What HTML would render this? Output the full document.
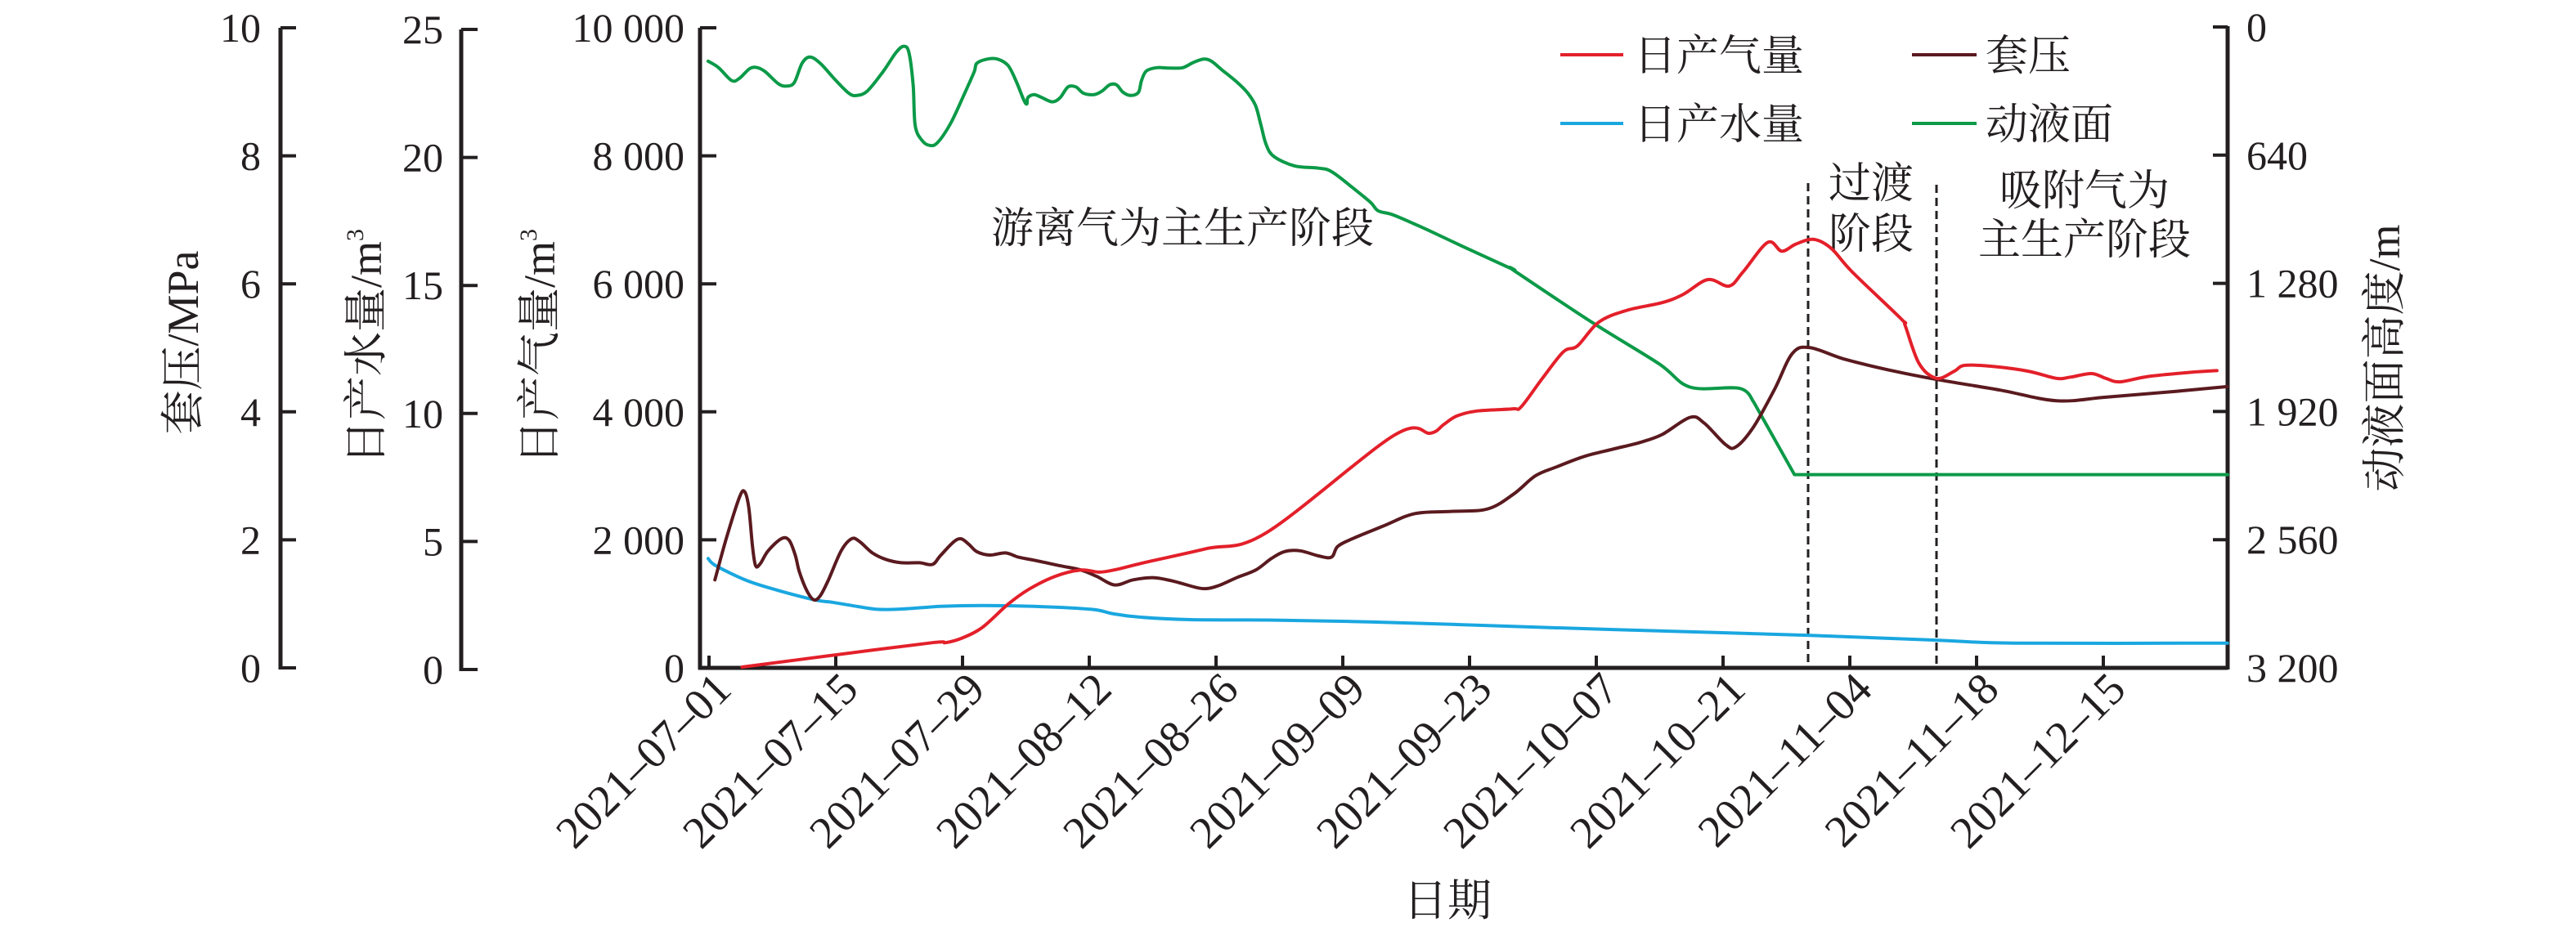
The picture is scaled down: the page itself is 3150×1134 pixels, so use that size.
<!DOCTYPE html>
<html><head><meta charset="utf-8"><style>
html,body{margin:0;padding:0;background:#fff;}
svg{display:block;}
text{font-family:"Liberation Serif","Noto Serif CJK SC","Noto Sans CJK SC",serif;fill:#231f20;}
</style></head><body>
<svg id="s" width="3150" height="1134" viewBox="0 0 3150 1134" xmlns="http://www.w3.org/2000/svg">
<g stroke="#231f20" stroke-width="5" fill="none">
<line x1="343" y1="34" x2="343" y2="819"/>
<line x1="564" y1="36" x2="564" y2="821"/>
<line x1="856" y1="34" x2="856" y2="819"/>
<line x1="854" y1="817" x2="2724" y2="817"/>
<line x1="2724" y1="32" x2="2724" y2="819"/>
</g>
<g id="ticks" stroke="#231f20" stroke-width="4"></g>
<g id="labels" font-size="50"></g>
<g id="xl" font-size="55"></g>
<g font-size="54">
<text transform="translate(242,419) rotate(-90)" text-anchor="middle">套压/MPa</text>
<text transform="translate(466,424) rotate(-90)" text-anchor="middle">日产水量/m<tspan font-size="30" dy="-22">3</tspan></text>
<text transform="translate(678,424) rotate(-90)" text-anchor="middle">日产气量/m<tspan font-size="30" dy="-22">3</tspan></text>
<text transform="translate(2934,438) rotate(-90)" text-anchor="middle">动液面高度/m</text>
<text x="1770" y="1120" text-anchor="middle">日期</text>
</g>
<g stroke-width="4" fill="none">
<line x1="1908" y1="67" x2="1985" y2="67" stroke="#e3202a"/>
<line x1="2338" y1="67" x2="2417" y2="67" stroke="#5a1a1f"/>
<line x1="1908" y1="151" x2="1985" y2="151" stroke="#1aa7e0"/>
<line x1="2338" y1="151" x2="2417" y2="151" stroke="#0c9a48"/>
</g>
<g font-size="52">
<text x="1998" y="86">日产气量</text>
<text x="2428" y="86">套压</text>
<text x="1998" y="170">日产水量</text>
<text x="2428" y="170">动液面</text>
<text x="1446" y="297" text-anchor="middle" font-size="52">游离气为主生产阶段</text>
<text x="2288" y="242" text-anchor="middle">过渡</text>
<text x="2288" y="304" text-anchor="middle">阶段</text>
<text x="2549" y="251" text-anchor="middle">吸附气为</text>
<text x="2549" y="311" text-anchor="middle">主生产阶段</text>
</g>
<g stroke="#231f20" stroke-width="3" stroke-dasharray="10,6">
<line x1="2211" y1="224" x2="2211" y2="817"/>
<line x1="2368" y1="226" x2="2368" y2="817"/>
</g>
<g id="series" fill="none" stroke-width="4" stroke-linejoin="round" stroke-linecap="round"></g>
</svg>
<script>
var NS="http://www.w3.org/2000/svg";
function el(p,t,a,txt){var e=document.createElementNS(NS,t);for(var k in a)e.setAttribute(k,a[k]);if(txt!=null)e.textContent=txt;document.getElementById(p).appendChild(e);return e;}
var y0=817,y1=34;
for(var i=0;i<=5;i++){var y=y0-(y0-y1)*i/5;
 el("ticks","line",{x1:343,y1:y,x2:362,y2:y});
 el("labels","text",{x:319,y:y+17,"text-anchor":"end"},String(i*2));
 var y2=819-(819-36)*i/5;
 el("ticks","line",{x1:564,y1:y2,x2:584,y2:y2});
 el("labels","text",{x:542,y:y2+17,"text-anchor":"end"},String(i*5));
 el("ticks","line",{x1:856,y1:y,x2:876,y2:y});
 el("labels","text",{x:837,y:y+17,"text-anchor":"end"},i==0?"0":(i==5?"10 000":(i*2)+" 000"));
 var yr=33+(817-33)*i/5;
 el("ticks","line",{x1:2706,y1:yr,x2:2724,y2:yr});
 el("labels","text",{x:2747,y:yr+17},["0","640","1 280","1 920","2 560","3 200"][i]);
}
var dates=["2021–07–01","2021–07–15","2021–07–29","2021–08–12","2021–08–26","2021–09–09","2021–09–23","2021–10–07","2021–10–21","2021–11–04","2021–11–18","2021–12–15"];
for(var i=0;i<12;i++){var x=867+155*i;
 el("ticks","line",{x1:x,y1:817,x2:x,y2:802});
 el("xl","text",{transform:"translate("+(x+30)+",846) rotate(-45)","text-anchor":"end"},dates[i]);
}
function z3(a){return a.map(function(p){return [850+p[0]/1.568,20+p[1]/1.912];});}
function z2(a){return a.map(function(p){return [1800+p[0]/1.1615,p[1]/1.383];});}
function path(pts){var d="M"+pts[0][0].toFixed(1)+","+pts[0][1].toFixed(1);
 for(var i=0;i<pts.length-1;i++){var p0=pts[Math.max(0,i-1)],p1=pts[i],p2=pts[i+1],p3=pts[Math.min(pts.length-1,i+2)];
  var c1=[p1[0]+(p2[0]-p0[0])/6,p1[1]+(p2[1]-p0[1])/6],c2=[p2[0]-(p3[0]-p1[0])/6,p2[1]-(p3[1]-p1[1])/6];
  d+="C"+c1[0].toFixed(1)+","+c1[1].toFixed(1)+" "+c2[0].toFixed(1)+","+c2[1].toFixed(1)+" "+p2[0].toFixed(1)+","+p2[1].toFixed(1);}
 return d;}
function draw(pts,c){el("series","path",{d:path(pts),stroke:c});}
var blue=z3([[25,1268],[40,1285],[100,1320],[160,1343],[230,1365],[260,1370],[300,1378],[350,1387],[400,1386],[470,1380],[550,1378],[650,1380],[760,1387],[800,1397],[850,1405],[950,1411],[1100,1412],[1250,1415],[1400,1420],[1568,1427]]).concat(z2([[200,1065],[480,1075],[660,1083],[770,1088],[1073,1088]]));
var green=z3([[25,105],[45,120],[70,150],[85,145],[105,122],[120,120],[135,130],[160,158],[175,163],[190,155],[205,110],[220,95],[240,110],[270,150],[295,180],[310,185],[330,175],[360,130],[385,85],[400,70],[410,85],[418,160],[422,255],[435,290],[450,302],[465,295],[490,250],[515,185],[535,130],[540,110],[560,100],[580,100],[600,115],[615,150],[630,195],[636,205],[638,190],[650,183],[665,190],[685,200],[700,190],[715,165],[730,165],[745,180],[765,183],[780,175],[795,160],[808,160],[820,177],[835,185],[850,178],[856,150],[865,128],[885,120],[910,121],[935,120],[955,108],[975,100],[990,105],[1010,125],[1040,155],[1060,180],[1075,210],[1085,255],[1095,300],[1110,328],[1150,350],[1195,355],[1220,363],[1260,400],[1295,435],[1310,455],[1340,465],[1400,497],[1470,537],[1568,592]]).concat(z2([[60,458],[170,545],[265,615],[310,655],[380,657],[400,680],[458,803]]));
var red=z3([[90,1522],[260,1495],[455,1465],[480,1465],[510,1455],[550,1430],[600,1375],[640,1340],[690,1310],[740,1295],[775,1300],[810,1293],[860,1278],[980,1245],[1095,1208],[1340,980],[1410,975],[1435,955],[1460,935],[1500,923],[1568,918]]).concat(z2([[70,688],[100,640],[130,595],[150,585],[180,545],[220,525],[270,512],[300,498],[335,473],[365,484],[385,460],[420,410],[440,425],[460,413],[485,405],[510,420],[540,460],[610,540],[615,550],[635,615],[660,640],[685,628],[700,618],[740,620],[790,628],[830,640],[850,638],[880,632],[900,640],[920,646],[960,637],[1020,630],[1058,627]]));
var dark=z3([[38,1318],[60,1220],[85,1125],[95,1112],[103,1150],[110,1240],[116,1285],[125,1280],[140,1250],[165,1222],[180,1225],[192,1260],[200,1300],[215,1345],[228,1365],[240,1355],[255,1320],[280,1250],[300,1222],[315,1228],[340,1255],[365,1270],[395,1278],[430,1278],[455,1282],[470,1262],[495,1230],[510,1222],[525,1235],[540,1252],[565,1260],[595,1255],[620,1265],[650,1272],[700,1285],[740,1295],[770,1310],[805,1330],[840,1318],[880,1313],[920,1322],[970,1338],[1000,1333],[1040,1312],[1075,1295],[1105,1268],[1130,1252],[1160,1250],[1195,1262],[1220,1265],[1232,1240],[1260,1222],[1320,1192],[1380,1163],[1450,1158],[1520,1152]]).concat(z2([[60,835],[90,805],[120,790],[160,772],[200,760],[240,748],[270,735],[310,706],[330,716],[360,752],[375,756],[400,722],[430,658],[455,598],[480,588],[530,608],[600,628],[660,642],[750,660],[830,678],[900,672],[1000,662],[1073,654]]));
draw(blue,"#1aa7e0");
el("series","path",{d:path(green.slice(0,green.length-1))+"L"+green[green.length-1][0].toFixed(1)+","+green[green.length-1][1].toFixed(1)+"L2724,"+(803/1.383).toFixed(1),stroke:"#0c9a48"});
draw(dark,"#5a1a1f");
draw(red,"#e3202a");
</script>
</body></html>
